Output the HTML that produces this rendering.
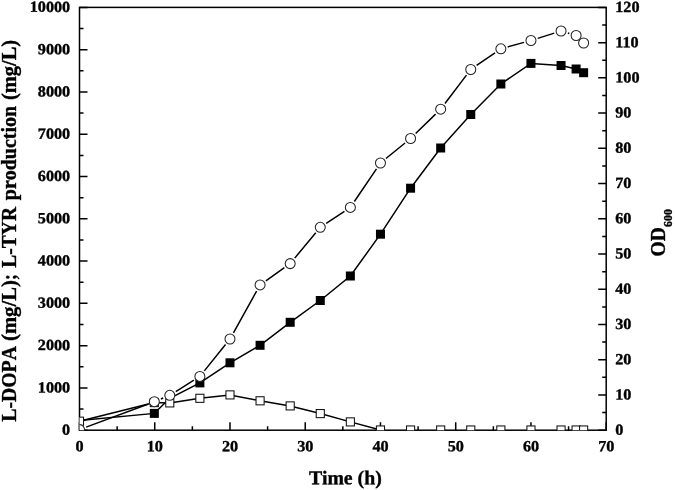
<!DOCTYPE html>
<html><head><meta charset="utf-8"><title>Chart</title>
<style>html,body{margin:0;padding:0;background:#fff}svg{display:block}</style></head>
<body>
<svg width="675" height="490" viewBox="0 0 675 490">
<rect width="675" height="490" fill="#fff"/>
<defs><clipPath id="c"><rect x="79.50" y="7.40" width="526.70" height="422.80"/></clipPath></defs>
<g stroke="#000" stroke-width="1.50" fill="none" stroke-linecap="butt">
<rect x="79.50" y="7.40" width="526.70" height="422.80"/>
<path d="M79.50 430.20V422.20M117.12 430.20V426.20M154.74 430.20V422.20M192.36 430.20V426.20M229.99 430.20V422.20M267.61 430.20V426.20M305.23 430.20V422.20M342.85 430.20V426.20M380.47 430.20V422.20M418.09 430.20V426.20M455.71 430.20V422.20M493.34 430.20V426.20M530.96 430.20V422.20M568.58 430.20V426.20M606.20 430.20V422.20M79.50 430.20H87.50M79.50 409.06H83.50M79.50 387.92H87.50M79.50 366.78H83.50M79.50 345.64H87.50M79.50 324.50H83.50M79.50 303.36H87.50M79.50 282.22H83.50M79.50 261.08H87.50M79.50 239.94H83.50M79.50 218.80H87.50M79.50 197.66H83.50M79.50 176.52H87.50M79.50 155.38H83.50M79.50 134.24H87.50M79.50 113.10H83.50M79.50 91.96H87.50M79.50 70.82H83.50M79.50 49.68H87.50M79.50 28.54H83.50M79.50 7.40H87.50M606.20 430.20H598.20M606.20 412.58H602.20M606.20 394.97H598.20M606.20 377.35H602.20M606.20 359.73H598.20M606.20 342.12H602.20M606.20 324.50H598.20M606.20 306.88H602.20M606.20 289.27H598.20M606.20 271.65H602.20M606.20 254.03H598.20M606.20 236.42H602.20M606.20 218.80H598.20M606.20 201.18H602.20M606.20 183.57H598.20M606.20 165.95H602.20M606.20 148.33H598.20M606.20 130.72H602.20M606.20 113.10H598.20M606.20 95.48H602.20M606.20 77.87H598.20M606.20 60.25H602.20M606.20 42.63H598.20M606.20 25.02H602.20M606.20 7.40H598.20"/>
</g>
<g clip-path="url(#c)">
<polyline fill="none" stroke="#000" stroke-width="1.5" points="79.50,420.60 154.34,413.40 169.79,398.30 199.89,382.90 229.99,362.80 260.08,345.30 290.18,322.30 320.28,300.50 350.37,276.00 380.47,234.20 410.57,188.20 440.67,148.00 470.76,114.50 500.86,84.00 530.96,63.40 561.05,65.50 576.10,69.00 583.63,72.70"/>
<rect x="149.84" y="408.90" width="9.00" height="9.00" fill="#000"/>
<rect x="195.39" y="378.40" width="9.00" height="9.00" fill="#000"/>
<rect x="225.49" y="358.30" width="9.00" height="9.00" fill="#000"/>
<rect x="255.58" y="340.80" width="9.00" height="9.00" fill="#000"/>
<rect x="285.68" y="317.80" width="9.00" height="9.00" fill="#000"/>
<rect x="315.78" y="296.00" width="9.00" height="9.00" fill="#000"/>
<rect x="345.87" y="271.50" width="9.00" height="9.00" fill="#000"/>
<rect x="375.97" y="229.70" width="9.00" height="9.00" fill="#000"/>
<rect x="406.07" y="183.70" width="9.00" height="9.00" fill="#000"/>
<rect x="436.17" y="143.50" width="9.00" height="9.00" fill="#000"/>
<rect x="466.26" y="110.00" width="9.00" height="9.00" fill="#000"/>
<rect x="496.36" y="79.50" width="9.00" height="9.00" fill="#000"/>
<rect x="526.46" y="58.90" width="9.00" height="9.00" fill="#000"/>
<rect x="556.55" y="61.00" width="9.00" height="9.00" fill="#000"/>
<rect x="571.60" y="64.50" width="9.00" height="9.00" fill="#000"/>
<rect x="579.13" y="68.20" width="9.00" height="9.00" fill="#000"/>
<polyline fill="none" stroke="#000" stroke-width="1.5" points="79.50,421.20 154.34,402.60 169.79,402.90 199.89,398.30 229.99,394.90 260.08,400.80 290.18,405.90 320.28,413.60 350.37,421.90 380.47,430.00"/>
<rect x="75.45" y="417.15" width="8.10" height="8.10" fill="#fff" stroke="#111" stroke-width="1.05"/>
<rect x="150.29" y="398.55" width="8.10" height="8.10" fill="#fff" stroke="#111" stroke-width="1.05"/>
<rect x="165.74" y="398.85" width="8.10" height="8.10" fill="#fff" stroke="#111" stroke-width="1.05"/>
<rect x="195.84" y="394.25" width="8.10" height="8.10" fill="#fff" stroke="#111" stroke-width="1.05"/>
<rect x="225.94" y="390.85" width="8.10" height="8.10" fill="#fff" stroke="#111" stroke-width="1.05"/>
<rect x="256.03" y="396.75" width="8.10" height="8.10" fill="#fff" stroke="#111" stroke-width="1.05"/>
<rect x="286.13" y="401.85" width="8.10" height="8.10" fill="#fff" stroke="#111" stroke-width="1.05"/>
<rect x="316.23" y="409.55" width="8.10" height="8.10" fill="#fff" stroke="#111" stroke-width="1.05"/>
<rect x="346.32" y="417.85" width="8.10" height="8.10" fill="#fff" stroke="#111" stroke-width="1.05"/>
<rect x="376.42" y="425.95" width="8.10" height="8.10" fill="#fff" stroke="#111" stroke-width="1.05"/>
<rect x="406.52" y="425.95" width="8.10" height="8.10" fill="#fff" stroke="#111" stroke-width="1.05"/>
<rect x="436.62" y="425.95" width="8.10" height="8.10" fill="#fff" stroke="#111" stroke-width="1.05"/>
<rect x="466.71" y="425.95" width="8.10" height="8.10" fill="#fff" stroke="#111" stroke-width="1.05"/>
<rect x="496.81" y="425.95" width="8.10" height="8.10" fill="#fff" stroke="#111" stroke-width="1.05"/>
<rect x="526.91" y="425.95" width="8.10" height="8.10" fill="#fff" stroke="#111" stroke-width="1.05"/>
<rect x="557.00" y="425.95" width="8.10" height="8.10" fill="#fff" stroke="#111" stroke-width="1.05"/>
<rect x="572.05" y="425.95" width="8.10" height="8.10" fill="#fff" stroke="#111" stroke-width="1.05"/>
<rect x="579.58" y="425.95" width="8.10" height="8.10" fill="#fff" stroke="#111" stroke-width="1.05"/>
<path fill="none" stroke="#000" stroke-width="1.5" d="M86.15 427.12L147.69 404.18M160.90 398.98L163.23 398.02M175.80 391.52L193.88 380.18M204.34 370.87L225.53 344.53M233.44 332.80L256.63 291.10M265.88 280.80L284.38 267.70M294.71 258.13L315.75 232.77M326.20 223.38L344.45 211.32M354.36 201.52L376.49 168.88M385.98 158.52L405.06 142.98M415.66 133.55L435.58 114.15M444.96 103.54L466.47 75.16M476.61 65.48L495.01 52.82M507.70 46.91L524.11 42.39M537.73 38.36L554.28 33.14M567.86 33.03L569.30 33.47"/>
<circle cx="79.50" cy="429.60" r="5.00" fill="#fff" stroke="#222" stroke-width="1.05"/>
<circle cx="154.34" cy="401.70" r="5.00" fill="#fff" stroke="#222" stroke-width="1.05"/>
<circle cx="169.79" cy="395.30" r="5.00" fill="#fff" stroke="#222" stroke-width="1.05"/>
<circle cx="199.89" cy="376.40" r="5.00" fill="#fff" stroke="#222" stroke-width="1.05"/>
<circle cx="229.99" cy="339.00" r="5.00" fill="#fff" stroke="#222" stroke-width="1.05"/>
<circle cx="260.08" cy="284.90" r="5.00" fill="#fff" stroke="#222" stroke-width="1.05"/>
<circle cx="290.18" cy="263.60" r="5.00" fill="#fff" stroke="#222" stroke-width="1.05"/>
<circle cx="320.28" cy="227.30" r="5.00" fill="#fff" stroke="#222" stroke-width="1.05"/>
<circle cx="350.37" cy="207.40" r="5.00" fill="#fff" stroke="#222" stroke-width="1.05"/>
<circle cx="380.47" cy="163.00" r="5.00" fill="#fff" stroke="#222" stroke-width="1.05"/>
<circle cx="410.57" cy="138.50" r="5.00" fill="#fff" stroke="#222" stroke-width="1.05"/>
<circle cx="440.67" cy="109.20" r="5.00" fill="#fff" stroke="#222" stroke-width="1.05"/>
<circle cx="470.76" cy="69.50" r="5.00" fill="#fff" stroke="#222" stroke-width="1.05"/>
<circle cx="500.86" cy="48.80" r="5.00" fill="#fff" stroke="#222" stroke-width="1.05"/>
<circle cx="530.96" cy="40.50" r="5.00" fill="#fff" stroke="#222" stroke-width="1.05"/>
<circle cx="561.05" cy="31.00" r="5.00" fill="#fff" stroke="#222" stroke-width="1.05"/>
<circle cx="576.10" cy="35.50" r="5.00" fill="#fff" stroke="#222" stroke-width="1.05"/>
<circle cx="583.63" cy="43.00" r="5.00" fill="#fff" stroke="#222" stroke-width="1.05"/>
</g>
<g font-family="'Liberation Serif', serif" font-weight="bold" fill="#000" stroke="#000" stroke-width="0.35" stroke-linejoin="round">
<g font-size="15.5px" text-anchor="middle">
<text transform="translate(79.60 451.20) rotate(0.05) scale(1.045 1)">0</text>
<text transform="translate(154.84 451.20) rotate(0.05) scale(1.045 1)">10</text>
<text transform="translate(230.09 451.20) rotate(0.05) scale(1.045 1)">20</text>
<text transform="translate(305.33 451.20) rotate(0.05) scale(1.045 1)">30</text>
<text transform="translate(380.57 451.20) rotate(0.05) scale(1.045 1)">40</text>
<text transform="translate(455.81 451.20) rotate(0.05) scale(1.045 1)">50</text>
<text transform="translate(531.06 451.20) rotate(0.05) scale(1.045 1)">60</text>
<text transform="translate(606.30 451.20) rotate(0.05) scale(1.045 1)">70</text>
</g>
<g font-size="15.5px" text-anchor="end">
<text transform="translate(70.20 434.70) rotate(0.05) scale(1.045 1)">0</text>
<text transform="translate(70.20 392.42) rotate(0.05) scale(1.045 1)">1000</text>
<text transform="translate(70.20 350.14) rotate(0.05) scale(1.045 1)">2000</text>
<text transform="translate(70.20 307.86) rotate(0.05) scale(1.045 1)">3000</text>
<text transform="translate(70.20 265.58) rotate(0.05) scale(1.045 1)">4000</text>
<text transform="translate(70.20 223.30) rotate(0.05) scale(1.045 1)">5000</text>
<text transform="translate(70.20 181.02) rotate(0.05) scale(1.045 1)">6000</text>
<text transform="translate(70.20 138.74) rotate(0.05) scale(1.045 1)">7000</text>
<text transform="translate(70.20 96.46) rotate(0.05) scale(1.045 1)">8000</text>
<text transform="translate(70.20 54.18) rotate(0.05) scale(1.045 1)">9000</text>
<text transform="translate(70.20 11.90) rotate(0.05) scale(1.045 1)">10000</text>
</g>
<g font-size="15.5px" text-anchor="start">
<text transform="translate(615.20 434.70) rotate(0.05) scale(1.045 1)">0</text>
<text transform="translate(615.20 399.47) rotate(0.05) scale(1.045 1)">10</text>
<text transform="translate(615.20 364.23) rotate(0.05) scale(1.045 1)">20</text>
<text transform="translate(615.20 329.00) rotate(0.05) scale(1.045 1)">30</text>
<text transform="translate(615.20 293.77) rotate(0.05) scale(1.045 1)">40</text>
<text transform="translate(615.20 258.53) rotate(0.05) scale(1.045 1)">50</text>
<text transform="translate(615.20 223.30) rotate(0.05) scale(1.045 1)">60</text>
<text transform="translate(615.20 188.07) rotate(0.05) scale(1.045 1)">70</text>
<text transform="translate(615.20 152.83) rotate(0.05) scale(1.045 1)">80</text>
<text transform="translate(615.20 117.60) rotate(0.05) scale(1.045 1)">90</text>
<text transform="translate(615.20 82.37) rotate(0.05) scale(1.045 1)">100</text>
<text transform="translate(615.20 47.13) rotate(0.05) scale(1.045 1)">110</text>
<text transform="translate(615.20 11.90) rotate(0.05) scale(1.045 1)">120</text>
</g>
<text transform="translate(345.4 484.2) rotate(0.05) scale(1.015 1)" font-size="19.5px" text-anchor="middle">Time (h)</text>
<g font-size="20px" style="font-kerning:none">
<text transform="translate(15.60 421.70) rotate(-90) scale(0.9869 1)">L-DOPA</text>
<text transform="translate(15.60 340.93) rotate(-90) scale(1.0315 1)">(mg/L)</text>
<text transform="translate(15.60 280.07) rotate(-90) scale(0.8750 1)">;</text>
<text transform="translate(15.60 267.69) rotate(-90) scale(0.9758 1)">L-TYR</text>
<text transform="translate(15.60 200.20) rotate(-90) scale(0.9979 1)">production</text>
<text transform="translate(15.60 100.02) rotate(-90) scale(1.0210 1)">(mg/L)</text>
</g>
<text transform="translate(665.4 256.5) rotate(-90) scale(0.975 1)" font-size="20px">OD</text>
<text transform="translate(672.0 227.0) rotate(-90)" font-size="11.9px">600</text>
</g>
</svg>
</body></html>
